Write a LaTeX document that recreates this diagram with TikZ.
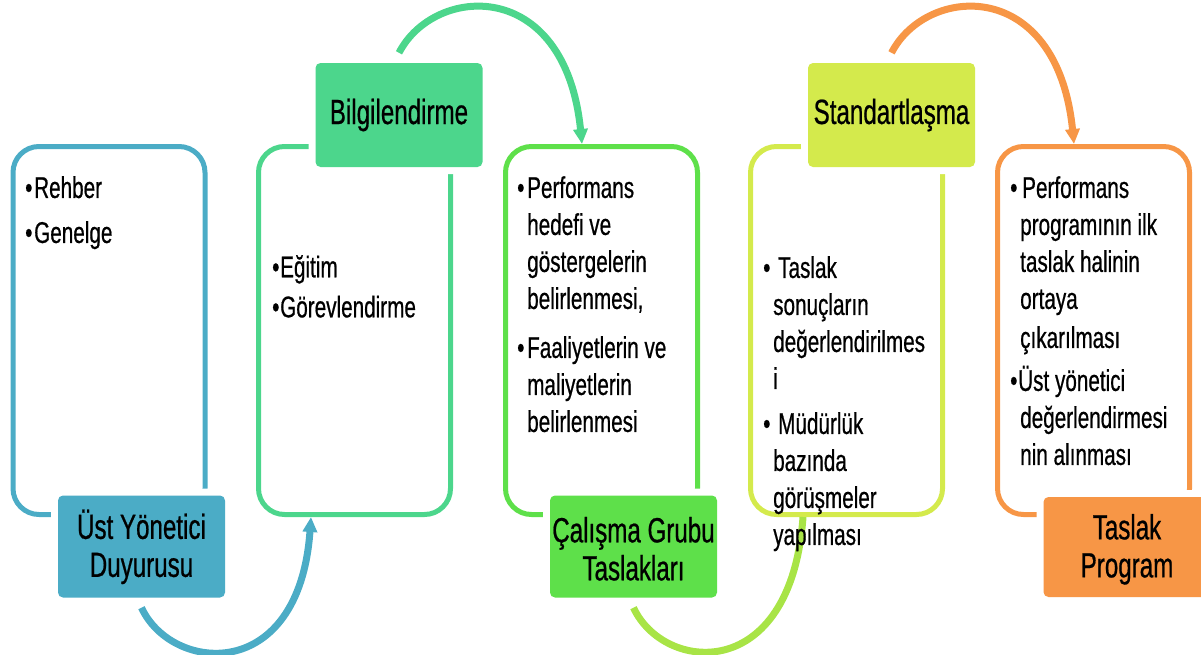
\documentclass[tikz,border=0pt]{standalone}
\usepackage{fontspec}
\setmainfont{Liberation Sans}[FakeStretch=0.69, FakeBold=0.6]
\usetikzlibrary{arrows.meta}
\definecolor{cBlue}{HTML}{4BACC6}
\definecolor{cMint}{HTML}{4CD68C}
\definecolor{cLime}{HTML}{5EE04A}
\definecolor{cPear}{HTML}{D4EA4C}
\definecolor{cOrange}{HTML}{F79646}
\definecolor{cLeaf}{HTML}{A8E446}
\newcommand\bodyfont{\fontsize{30pt}{37pt}\selectfont}
\newcommand\tagfont{\fontsize{35pt}{38pt}\selectfont}
\newcommand\itm[1][10pt]{\makebox[#1][l]{\textbullet}}
\newcommand\cnt[1][10pt]{\hspace*{#1}}
\tikzset{
 frame/.style={draw=#1, line width=5pt, rounded corners=26pt, minimum width=192pt, minimum height=368pt, inner sep=0pt},
 tag/.style={fill=#1, rounded corners=5pt, minimum width=167pt, minimum height=102pt, inner sep=0pt, align=center, font=\tagfont, preaction={draw=white, line width=14pt}},
 swing/.style={draw=#1, line width=7pt},
 txt/.style={anchor=north west, inner sep=0pt, align=left, font=\bodyfont}
}
\begin{document}
\begin{tikzpicture}[x=1pt, y=-1pt, >={Triangle[length=15pt, width=14pt]}]
 \useasboundingbox (0,0) rectangle (1201,654);
 % Çerçeveler
 \node[frame=cBlue] (f1) at (109,330.5) {};
 \node[frame=cMint] (f2) at (354.5,330.5) {};
 \node[frame=cLime] (f3) at (601.5,330.5) {};
 \node[frame=cPear] (f4) at (846.5,330.5) {};
 \node[frame=cOrange] (f5) at (1093.5,330.5) {};
 % Başlıklar
 \node[tag=cBlue] (tag1) at (141.5,546.5) {\rule{0pt}{30pt}Üst Yönetici\\Duyurusu};
 \node[tag=cMint, minimum height=104pt] (tag2) at (399,115) {Bilgilendirme};
 \node[tag=cLime] (tag3) at (633.5,546.5) {\rule{0pt}{30pt}Çalışma Grubu\\Taslakları};
 \node[tag=cPear, minimum height=104pt] (tag4) at (891.5,115) {Standartlaşma};
 \node[tag=cOrange, minimum height=100pt] (tag5) at (1127,547) {\rule{0pt}{30pt}Taslak\\Program};
 % Yaylar
 \draw[swing=cBlue, ->] ([yshift=-10pt]tag1.south) .. controls +(30,65) and +(-12,168) .. ([xshift=55pt]f2.south west);
 \draw[swing=cMint, ->] ([yshift=10pt]tag2.north) .. controls +(35,-68) and +(-17,-168) .. ([xshift=79pt]f3.north west);
 \draw[swing=cLeaf] ([yshift=-10pt]tag3.south) .. controls +(30,65) and +(-12,168) .. ([xshift=55pt]f4.south west);
 \draw[swing=cOrange, ->] ([yshift=10pt]tag4.north) .. controls +(35,-68) and +(-17,-168) .. ([xshift=79pt]f5.north west);
 % Maddeler
 \node[txt] (m1) at (25,176) {\itm[9pt]Rehber\\[8pt]\itm[9pt]Genelge};
 \node[txt] (m2) at (272,255) {\itm[8pt]Eğitim\\[3pt]\itm[8pt]Görevlendirme};
 \node[txt] (m3) at (517,176) {\itm Performans\\\cnt hedefi ve\\\cnt göstergelerin\\\cnt belirlenmesi,\\[12pt]
  \itm Faaliyetlerin ve\\\cnt maliyetlerin\\\cnt belirlenmesi};
 \node[txt] (m4) at (763,256) {\itm[15pt]Taslak\\\cnt sonuçların\\\cnt değerlendirilmes\\\cnt i\\[8pt]
  \itm[15pt]Müdürlük\\\cnt bazında\\\cnt görüşmeler\\\cnt yapılması};
 \node[txt] (m5) at (1010,176) {\itm[12pt]Performans\\\cnt programının ilk\\\cnt taslak halinin\\\cnt ortaya\\[2pt]\cnt çıkarılması\\[6pt]
  \itm[8pt]Üst yönetici\\\cnt değerlendirmesi\\\cnt nin alınması};
\end{tikzpicture}
\end{document}
